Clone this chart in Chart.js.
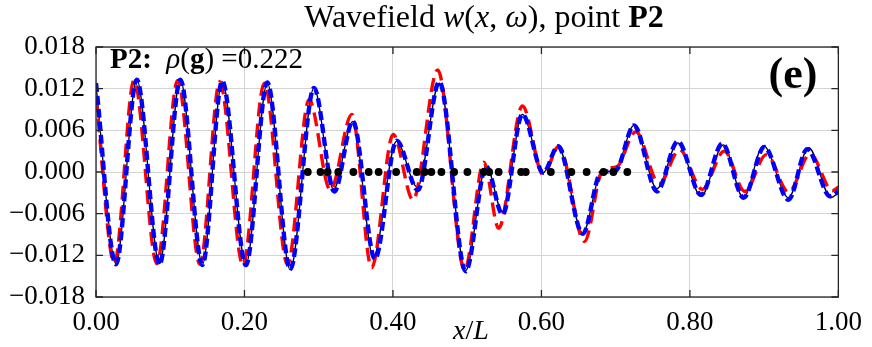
<!DOCTYPE html>
<html>
<head>
<meta charset="utf-8">
<script src="https://cdn.jsdelivr.net/npm/chart.js@4.4.0/dist/chart.umd.min.js"></script>
<style>
  html, body { margin: 0; padding: 0; background: #fff; }
</style>
</head>
<body>
<canvas id="chart" width="872" height="347"></canvas>
<script>
// ── Data ────────────────────────────────────────────────────
// black thin curve
const blackX = [0.000, 0.0269, 0.0549, 0.0856, 0.1136, 0.1433, 0.170, 0.202, 0.2307, 0.2616,
                0.2936, 0.320, 0.346, 0.3736, 0.4047, 0.433, 0.4624, 0.498, 0.5256, 0.5477,
                0.5744, 0.6024, 0.6224, 0.6557, 0.680, 0.700, 0.7247, 0.7557, 0.7837, 0.815,
                0.845, 0.872, 0.899, 0.9327, 0.960, 0.990, 1.000];
const blackY = [0.0125, -0.0132, 0.0133, -0.0132, 0.0133, -0.0133, 0.0130, -0.0133, 0.0128, -0.0141,
                0.0121, -0.0025, 0.0073, -0.0122, 0.0044, -0.0022, 0.0128, -0.0142, 0.0009, -0.0058,
                0.0083, -0.0001, 0.0037, -0.0088, -0.0002, 0.0003, 0.0067, -0.0024, 0.0042, -0.0035,
                0.0039, -0.0037, 0.0038, -0.0037, 0.0035, -0.0037, -0.0030];

// red long-dash curve
const redX = [0.000, 0.0247, 0.0513, 0.082, 0.110, 0.140, 0.1667, 0.198, 0.2267, 0.258,
              0.287, 0.3157, 0.3447, 0.3713, 0.4003, 0.427, 0.4603, 0.4965, 0.5224, 0.5424,
              0.5744, 0.6024, 0.6235, 0.658, 0.681, 0.692, 0.702, 0.727, 0.7587, 0.786,
              0.8167, 0.8463, 0.874, 0.903, 0.933, 0.962, 0.992, 1.000];
const redY = [0.0107, -0.0131, 0.0132, -0.0132, 0.0132, -0.0133, 0.0130, -0.0134, 0.0128, -0.0133,
              0.0104, -0.0026, 0.0083, -0.0138, 0.0054, -0.0040, 0.0147, -0.0141, 0.0014, -0.0081,
              0.0095, -0.0004, 0.0037, -0.0100, 0.0000, 0.0006, 0.0008, 0.0058, -0.0017, 0.0032,
              -0.0025, 0.0030, -0.0028, 0.0025, -0.0029, 0.0026, -0.0027, -0.0022];

// blue short-dash curve
const blueX = [0.000, 0.0269, 0.0549, 0.0856, 0.1136, 0.1433, 0.170, 0.202, 0.2307, 0.2616,
               0.2936, 0.321, 0.346, 0.3757, 0.405, 0.4336, 0.4624, 0.498, 0.5256, 0.5477,
               0.5744, 0.6024, 0.6224, 0.6557, 0.680, 0.700, 0.7247, 0.7557, 0.7837, 0.815,
               0.8437, 0.8723, 0.9003, 0.9327, 0.958, 0.989, 1.000];
const blueY = [0.0128, -0.0133, 0.0133, -0.0133, 0.0133, -0.0134, 0.0131, -0.0134, 0.0129, -0.0140,
               0.0121, -0.0028, 0.0073, -0.0125, 0.0045, -0.0026, 0.0130, -0.0143, 0.0008, -0.0061,
               0.0083, -0.0001, 0.0037, -0.0089, -0.0001, 0.0002, 0.0067, -0.0028, 0.0044, -0.0033,
               0.0041, -0.0037, 0.0036, -0.0040, 0.0033, -0.0035, -0.0028];

// black dots on the zero line
const dotX = [0.2853, 0.3024, 0.3120, 0.3264, 0.3467, 0.3673, 0.3807, 0.4043, 0.4320, 0.4427,
              0.4517, 0.4653, 0.4824, 0.5003, 0.5224, 0.5296, 0.5424, 0.5727, 0.5789, 0.6127,
              0.6403, 0.6609, 0.6836, 0.6969, 0.7157];
const dotY = dotX.map(() => 0);

// ticks
const xTicks = [0, 0.2, 0.4, 0.6, 0.8, 1.0];
const yTicks = [-0.018, -0.012, -0.006, 0, 0.006, 0.012, 0.018];

// ── Helpers ─────────────────────────────────────────────────
const SERIF = "'Liberation Serif', 'Times New Roman', serif";
const pts = (xs, ys) => xs.map((x, i) => ({ x: x, y: ys[i] }));

function drawRuns(ctx, runs, x, y, align) {
  let total = 0;
  runs.forEach(r => { ctx.font = r.f; total += ctx.measureText(r.t).width; });
  let cx = align === "center" ? x - total / 2 : x;
  runs.forEach(r => {
    ctx.font = r.f;
    ctx.fillText(r.t, cx, y);
    cx += ctx.measureText(r.t).width;
  });
}

// frame, inward ticks and all the LaTeX-ish texts
const decorPlugin = {
  id: "decor",
  afterDraw(chart) {
    const ctx = chart.ctx;
    const a = chart.chartArea;
    const sx = chart.scales.x, sy = chart.scales.y;
    ctx.save();

    // box
    ctx.strokeStyle = "#262626";
    ctx.lineWidth = 1.3;
    ctx.strokeRect(a.left, a.top, a.right - a.left, a.bottom - a.top);

    // inward tick marks
    ctx.beginPath();
    xTicks.forEach(v => {
      const px = sx.getPixelForValue(v);
      ctx.moveTo(px, a.bottom); ctx.lineTo(px, a.bottom - 7);
      ctx.moveTo(px, a.top);    ctx.lineTo(px, a.top + 7);
    });
    yTicks.forEach(v => {
      const py = sy.getPixelForValue(v);
      ctx.moveTo(a.left, py);  ctx.lineTo(a.left + 7, py);
      ctx.moveTo(a.right, py); ctx.lineTo(a.right - 7, py);
    });
    ctx.stroke();

    ctx.fillStyle = "#000";
    ctx.textBaseline = "alphabetic";
    ctx.textAlign = "left";

    // title
    const T = 32;
    drawRuns(ctx, [
      { t: "Wavefield ", f: `${T}px ${SERIF}` },
      { t: "w", f: `italic ${T}px ${SERIF}` },
      { t: "(", f: `${T}px ${SERIF}` },
      { t: "x", f: `italic ${T}px ${SERIF}` },
      { t: ", ", f: `${T}px ${SERIF}` },
      { t: "ω", f: `italic ${T}px ${SERIF}` },
      { t: ")", f: `${T}px ${SERIF}` },
      { t: ", point ", f: `${T}px ${SERIF}` },
      { t: "P2", f: `bold ${T}px ${SERIF}` }
    ], 484, 27, "center");

    // P2 annotation
    const A = 29;
    drawRuns(ctx, [
      { t: "P2", f: `bold ${A}px ${SERIF}` },
      { t: ":  ", f: `bold ${A}px ${SERIF}` },
      { t: "ρ", f: `italic ${A}px ${SERIF}` },
      { t: "(", f: `${A}px ${SERIF}` },
      { t: "g", f: `bold ${A}px ${SERIF}` },
      { t: ") ", f: `${A}px ${SERIF}` },
      { t: "=0.222", f: `${A}px ${SERIF}` }
    ], 110, 68, "left");

    // panel label
    drawRuns(ctx, [{ t: "(e)", f: `bold 44px ${SERIF}` }], 793, 88, "center");

    // x axis title
    drawRuns(ctx, [
      { t: "x", f: `italic 28px ${SERIF}` },
      { t: "/", f: `28px ${SERIF}` },
      { t: "L", f: `italic 28px ${SERIF}` }
    ], 471, 339, "center");

    ctx.restore();
  }
};

// ── Chart ───────────────────────────────────────────────────
new Chart(document.getElementById("chart"), {
  type: "line",
  data: {
    datasets: [
      {
        data: pts(dotX, dotY), showLine: false, order: 0,
        pointRadius: 3.9, pointBackgroundColor: "#000", pointBorderWidth: 0
      },
      {
        data: pts(blueX, blueY), order: 1,
        borderColor: "#0000ff", borderWidth: 4.4, borderDash: [9, 4], borderCapStyle: "butt",
        pointRadius: 0, cubicInterpolationMode: "monotone"
      },
      {
        data: pts(redX, redY), order: 2,
        borderColor: "#ff0000", borderWidth: 3.4, borderDash: [14, 7], borderCapStyle: "butt",
        pointRadius: 0, cubicInterpolationMode: "monotone"
      },
      {
        data: pts(blackX, blackY), order: 3,
        borderColor: "#000000", borderWidth: 1.3,
        pointRadius: 0, cubicInterpolationMode: "monotone"
      }
    ]
  },
  options: {
    responsive: false,
    animation: false,
    devicePixelRatio: 1,
    layout: { padding: { top: 47, right: 26, bottom: 0, left: 0 } },
    plugins: { legend: { display: false }, tooltip: { enabled: false }, title: { display: false } },
    scales: {
      x: {
        type: "linear", min: 0, max: 1,
        afterFit(scale) { scale.height = 50; },
        afterBuildTicks(scale) { scale.ticks = xTicks.map(v => ({ value: v })); },
        grid: { color: "#d4d4d4", lineWidth: 1, drawTicks: false },
        border: { display: false },
        ticks: {
          padding: 10, color: "#000", maxRotation: 0,
          font: { family: SERIF, size: 27 },
          callback: v => v.toFixed(2)
        }
      },
      y: {
        min: -0.018, max: 0.018,
        afterFit(scale) { scale.width = 96; },
        afterBuildTicks(scale) { scale.ticks = yTicks.map(v => ({ value: v })); },
        grid: { color: "#d4d4d4", lineWidth: 1, drawTicks: false },
        border: { display: false },
        ticks: {
          padding: 11, color: "#000",
          font: { family: SERIF, size: 27 },
          callback: v => (Math.abs(v) < 1e-9 ? "0.000" : v.toFixed(3).replace("-", "\u2212"))
        }
      }
    }
  },
  plugins: [decorPlugin]
});
</script>
</body>
</html>
